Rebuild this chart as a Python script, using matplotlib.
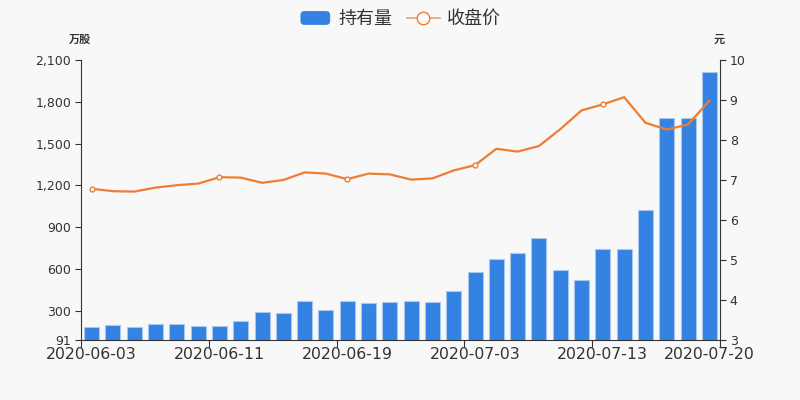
import matplotlib
matplotlib.use("Agg")
import matplotlib.pyplot as plt
from matplotlib.legend_handler import HandlerPatch
from matplotlib.lines import Line2D
from matplotlib.patches import FancyBboxPatch, Patch
from matplotlib.ticker import FuncFormatter

plt.rcParams['font.family'] = ['DejaVu Sans', 'Noto Sans CJK SC']

# trading dates shown in the chart (30 bars)
dates = [
    "2020-06-03", "2020-06-04", "2020-06-05", "2020-06-08", "2020-06-09", "2020-06-10",
    "2020-06-11", "2020-06-12", "2020-06-15", "2020-06-16", "2020-06-17", "2020-06-18",
    "2020-06-19", "2020-06-22", "2020-06-23", "2020-06-24", "2020-06-29", "2020-06-30",
    "2020-07-03", "2020-07-06", "2020-07-07", "2020-07-08", "2020-07-09", "2020-07-10",
    "2020-07-13", "2020-07-14", "2020-07-15", "2020-07-16", "2020-07-17", "2020-07-20",
]
# holdings, 万股
holdings = [186, 196, 184, 206, 203, 191, 191, 225, 292, 282, 373, 308, 371, 359, 361,
            373, 361, 443, 579, 672, 713, 825, 593, 521, 742, 746, 1024, 1682, 1682, 2014]
# closing price, 元
close = [6.78, 6.72, 6.71, 6.81, 6.87, 6.91, 7.07, 7.06, 6.93, 7.00, 7.19, 7.16, 7.02, 7.16,
         7.14, 7.01, 7.04, 7.24, 7.37, 7.78, 7.71, 7.85, 8.27, 8.74, 8.89, 9.07, 8.43, 8.26,
         8.39, 8.98]

left_ticks = [91, 300, 600, 900, 1200, 1500, 1800, 2100]
right_ticks = [3, 4, 5, 6, 7, 8, 9, 10]
label_idx = [0, 6, 12, 18, 24, 29]

BG = "#f8f8f8"
BLUE = "#3482e2"
ORANGE = "#ee7d33"
TXT = "#333333"


class RoundedPatch(HandlerPatch):
    # legend swatch with rounded corners, like the echarts one
    def create_artists(self, legend, orig_handle, xdescent, ydescent,
                       width, height, fontsize, trans):
        p = FancyBboxPatch((-xdescent + 1, -ydescent), width - 2, height,
                           boxstyle="round,pad=0,rounding_size=3",
                           facecolor=orig_handle.get_facecolor(), edgecolor="none",
                           transform=trans)
        return [p]


fig = plt.figure(figsize=(8, 4), dpi=100, facecolor=BG)
ax = fig.add_axes([81 / 800, 60 / 400, 639 / 800, 280 / 400], facecolor=BG)
ax2 = ax.twinx()

x = list(range(len(dates)))
ax.bar(x, holdings, width=0.7, color=BLUE, edgecolor="#a9c8f0", linewidth=0.8, zorder=2)
ax.set_xlim(-0.5, len(dates) - 0.5)
ax.set_ylim(91, 2100)
ax.set_yticks(left_ticks)
ax.yaxis.set_major_formatter(FuncFormatter(lambda v, p: f"{int(v):,}"))

ax2.plot(x, close, color=ORANGE, lw=1.6, zorder=3, marker="o", markersize=3.5,
         markerfacecolor="white", markeredgecolor=ORANGE, markeredgewidth=1,
         markevery=[0, 6, 12, 18, 24])
ax2.set_ylim(3, 10)
ax2.set_yticks(right_ticks)

# ticks at category boundaries, labels at category centres
ax.set_xticks([i - 0.5 for i in range(0, len(dates) + 1, 6)])
ax.set_xticklabels([])
ax.set_xticks(label_idx, minor=True)
ax.set_xticklabels([dates[i] for i in label_idx], minor=True, fontsize=11.3, color=TXT)
ax.tick_params(axis="x", which="major", length=5, color=TXT)
ax.tick_params(axis="x", which="minor", length=0, pad=5)

for a in (ax, ax2):
    for s in a.spines.values():
        s.set_color(TXT)
    a.spines["top"].set_visible(False)
ax.spines["right"].set_visible(False)
ax2.spines["left"].set_visible(False)
ax2.spines["bottom"].set_visible(False)

ax.tick_params(axis="y", length=4, labelsize=9, labelcolor=TXT, color=TXT, pad=3)
ax2.tick_params(axis="y", length=4, labelsize=9, labelcolor=TXT, color=TXT, pad=3)

fig.text(80 / 800, 1 - 39 / 400, "万股", ha="center", va="center", fontsize=8,
         fontweight="bold", color=TXT, family=["Noto Sans CJK SC"])
fig.text(719 / 800, 1 - 39 / 400, "元", ha="center", va="center", fontsize=8,
         fontweight="bold", color=TXT, family=["Noto Sans CJK SC"])

bar_handle = Patch(facecolor=BLUE, edgecolor=BLUE)
handles = [
    bar_handle,
    Line2D([0], [0], color="#f0a070", lw=1.2, marker="o", markersize=9,
           markerfacecolor="white", markeredgecolor=ORANGE),
]
fig.legend(handles, ["持有量", "收盘价"], loc="upper center", bbox_to_anchor=(0.5, 1.015),
           ncol=2, frameon=False, handlelength=1.8, handleheight=0.8,
           columnspacing=0.8, handletextpad=0.4, labelcolor=TXT,
           handler_map={Patch: RoundedPatch()},
           prop={"family": ["Noto Sans CJK SC"], "size": 13})

fig.savefig("out.png", dpi=100, facecolor=BG)
